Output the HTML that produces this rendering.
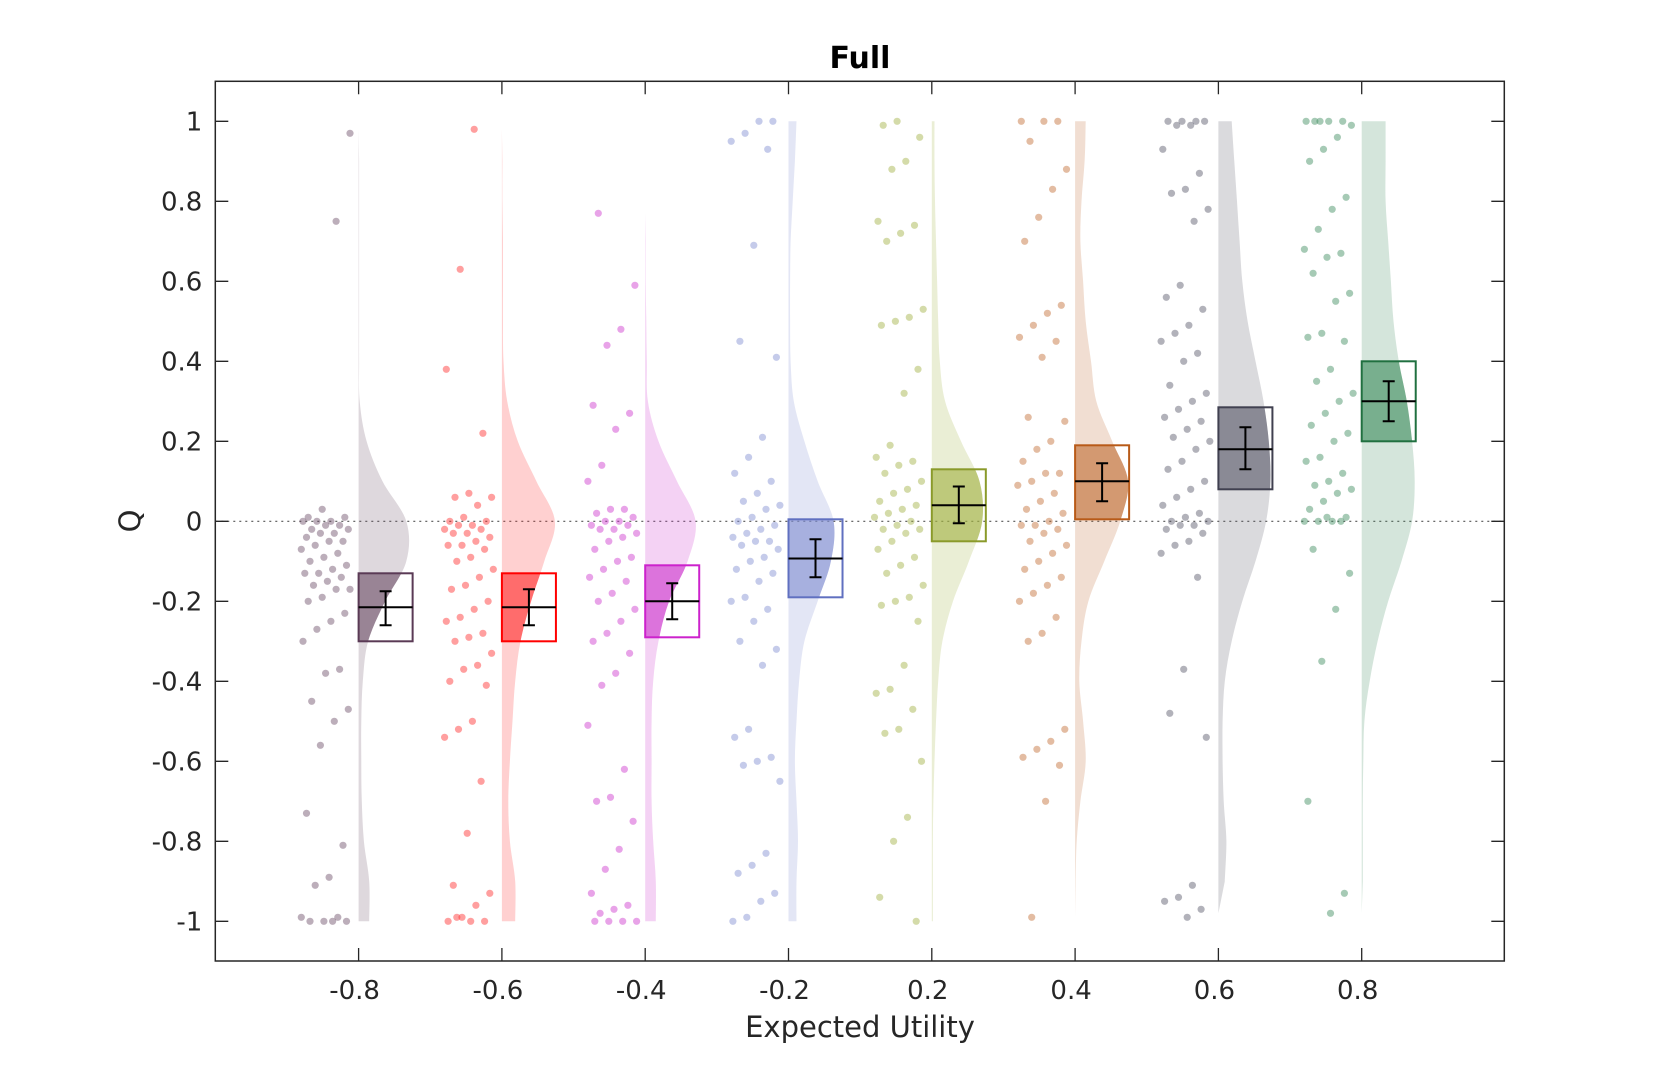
<!DOCTYPE html>
<html><head><meta charset="utf-8"><style>
body{margin:0;background:#fff;}
svg{display:block;font-family:"DejaVu Sans","Liberation Sans",sans-serif;}
</style></head><body>
<svg id="chart" width="1662" height="1080" viewBox="0 0 1662 1080">
<defs id="defs"></defs>
<rect x="0" y="0" width="1662" height="1080" fill="#fff"/>
<text x="860" y="68" text-anchor="middle" font-size="30" font-weight="bold" fill="#000">Full</text>
<g id="plot"></g>
<g id="axes"></g>
<text x="860" y="1037" text-anchor="middle" font-size="29" fill="#262626">Expected Utility</text>
<text x="0" y="0" transform="translate(140,521) rotate(-90)" text-anchor="middle" font-size="29" fill="#262626">Q</text>
</svg>
<script>
const categories = ["-0.8","-0.6","-0.4","-0.2","0.2","0.4","0.6","0.8"];
const yTicks = [1,0.8,0.6,0.4,0.2,0,-0.2,-0.4,-0.6,-0.8,-1];
const yTickLabels = ["1","0.8","0.6","0.4","0.2","0","-0.2","-0.4","-0.6","-0.8","-1"];
const densityGrid = [1,0.9,0.8,0.7,0.6,0.5,0.4,0.3,0.2,0.1,0,-0.1,-0.2,-0.3,-0.4,-0.5,-0.6,-0.7,-0.8,-0.9,-1];
const violinTop = [0.98,0.98,0.77,1,1,1,1,1];
const violinBottom = [-1,-1,-1,-1,-1,-0.99,-0.98,-0.98];
const density1 = [0.01,0.01,0.01,0.01,0.01,0.01,0.01,0.02,0.15,0.45,0.9,0.9,0.5,0.18,0.08,0.05,0.05,0.06,0.1,0.2,0.2];
const density2 = [0.01,0.01,0.01,0.02,0.02,0.02,0.03,0.1,0.3,0.65,1.0,0.8,0.55,0.35,0.25,0.2,0.15,0.12,0.15,0.25,0.25];
const density3 = [0,0,0.01,0.01,0.01,0.02,0.03,0.05,0.25,0.6,0.95,0.8,0.45,0.25,0.15,0.12,0.12,0.12,0.15,0.2,0.2];
const density4 = [0.15,0.12,0.08,0.04,0.03,0.03,0.04,0.1,0.3,0.55,0.85,0.8,0.55,0.3,0.2,0.15,0.12,0.15,0.18,0.15,0.15];
const density5 = [0.05,0.05,0.06,0.08,0.1,0.12,0.15,0.25,0.55,0.9,0.95,0.7,0.4,0.2,0.12,0.08,0.05,0.03,0.02,0.02,0.02];
const density6 = [0.2,0.18,0.12,0.1,0.15,0.2,0.3,0.4,0.7,1.0,0.85,0.55,0.25,0.12,0.08,0.15,0.2,0.1,0.03,0.01,0.01];
const density7 = [0.25,0.3,0.35,0.4,0.45,0.55,0.7,0.85,0.95,0.98,0.9,0.7,0.45,0.25,0.12,0.08,0.08,0.1,0.15,0.12,0.1];
const density8 = [0.45,0.45,0.45,0.5,0.55,0.6,0.7,0.85,0.95,1.0,0.95,0.75,0.5,0.3,0.15,0.05,0.03,0.02,0.02,0.02,0.02];
const boxLow = [-0.30,-0.30,-0.29,-0.19,-0.05,0.005,0.08,0.20];
const boxHigh = [-0.13,-0.13,-0.11,0.005,0.13,0.19,0.285,0.40];
const means = [-0.215,-0.215,-0.20,-0.093,0.04,0.10,0.18,0.30];
const errLow = [-0.26,-0.26,-0.245,-0.14,-0.005,0.05,0.13,0.25];
const errHigh = [-0.175,-0.17,-0.155,-0.045,0.087,0.145,0.235,0.35];
const points1 = [0.97,0.75,0.03,0.01,0.01,0,0,0,-0.01,-0.01,-0.02,-0.02,-0.03,-0.03,-0.04,-0.05,-0.05,-0.06,-0.07,-0.08,-0.09,-0.1,-0.11,-0.12,-0.13,-0.13,-0.14,-0.15,-0.16,-0.17,-0.17,-0.19,-0.2,-0.23,-0.25,-0.27,-0.3,-0.37,-0.38,-0.45,-0.47,-0.5,-0.56,-0.73,-0.81,-0.89,-0.91,-0.99,-0.99,-1,-1,-1,-1];
const points2 = [0.98,0.63,0.38,0.22,0.07,0.06,0.06,0.04,0.01,0,0,-0.01,-0.01,-0.02,-0.02,-0.03,-0.03,-0.04,-0.05,-0.06,-0.06,-0.07,-0.09,-0.1,-0.12,-0.14,-0.16,-0.17,-0.2,-0.22,-0.24,-0.25,-0.28,-0.29,-0.3,-0.33,-0.36,-0.37,-0.4,-0.41,-0.5,-0.52,-0.54,-0.65,-0.78,-0.91,-0.93,-0.96,-0.99,-1,-1,-1,-0.99];
const points3 = [0.77,0.59,0.48,0.44,0.29,0.27,0.23,0.14,0.1,0.03,0.03,0.02,0.01,0,0,-0.01,-0.01,-0.02,-0.02,-0.03,-0.04,-0.05,-0.07,-0.09,-0.1,-0.12,-0.14,-0.15,-0.18,-0.2,-0.22,-0.25,-0.28,-0.3,-0.33,-0.38,-0.41,-0.51,-0.62,-0.69,-0.7,-0.75,-0.82,-0.87,-0.93,-0.96,-0.97,-0.98,-1,-1,-1,-1];
const points4 = [1,1,0.97,0.95,0.93,0.69,0.45,0.41,0.21,0.16,0.12,0.1,0.07,0.05,0.04,0.03,0.01,0,-0.01,-0.02,-0.03,-0.04,-0.05,-0.05,-0.06,-0.07,-0.09,-0.1,-0.12,-0.13,-0.15,-0.19,-0.2,-0.22,-0.25,-0.3,-0.32,-0.36,-0.52,-0.54,-0.59,-0.6,-0.61,-0.65,-0.83,-0.86,-0.88,-0.93,-0.95,-0.99,-1];
const points5 = [1,0.99,0.96,0.9,0.88,0.75,0.74,0.72,0.7,0.53,0.51,0.5,0.49,0.38,0.32,0.19,0.16,0.15,0.14,0.12,0.1,0.08,0.07,0.05,0.04,0.03,0.02,0.01,0,-0.01,-0.02,-0.02,-0.03,-0.05,-0.07,-0.09,-0.11,-0.13,-0.16,-0.19,-0.2,-0.21,-0.25,-0.36,-0.42,-0.43,-0.47,-0.52,-0.53,-0.6,-0.74,-0.8,-0.94,-1];
const points6 = [1,1,1,0.95,0.88,0.83,0.76,0.7,0.54,0.52,0.49,0.46,0.45,0.41,0.26,0.25,0.2,0.18,0.15,0.12,0.12,0.1,0.09,0.07,0.05,0.03,0.02,0,-0.01,-0.01,-0.02,-0.03,-0.05,-0.06,-0.08,-0.1,-0.12,-0.14,-0.16,-0.18,-0.2,-0.24,-0.28,-0.3,-0.52,-0.55,-0.57,-0.59,-0.61,-0.7,-0.99];
const points7 = [1,1,1,1,0.99,0.99,0.93,0.87,0.83,0.82,0.78,0.75,0.59,0.56,0.53,0.49,0.47,0.45,0.42,0.4,0.34,0.32,0.3,0.28,0.26,0.25,0.23,0.21,0.2,0.18,0.15,0.13,0.1,0.08,0.06,0.04,0.02,0.01,0,0,-0.01,-0.01,-0.02,-0.03,-0.05,-0.06,-0.08,-0.14,-0.37,-0.48,-0.54,-0.91,-0.94,-0.95,-0.97,-0.99];
const points8 = [1,1,1,1,1,0.99,0.96,0.93,0.9,0.81,0.78,0.73,0.68,0.67,0.66,0.62,0.57,0.55,0.47,0.46,0.45,0.38,0.35,0.32,0.3,0.27,0.24,0.22,0.2,0.16,0.15,0.12,0.1,0.09,0.08,0.07,0.05,0.03,0.01,0,0,0,0,0.01,-0.07,-0.13,-0.22,-0.35,-0.7,-0.93,-0.98];

const densities=[density1,density2,density3,density4,density5,density6,density7,density8];
const pointSets=[points1,points2,points3,points4,points5,points6,points7,points8];
const baseColors=["#6b4c66","#ff2a2a","#cc33cc","#7f8cd0","#a0b040","#c06a30","#555566","#3a8a5a"];
const strokeColors=["#5a3a55","#ff0000","#cc22cc","#6070c0","#8a9a2a","#b85a18","#404050","#207040"];

const L=215.3,R=1504.3,T=81.3,B=961;
const UNIT=143.3;
function xs(i){return L+(i+1)*UNIT;}
function ys(v){return 521.3-v*400;}
const NS="http://www.w3.org/2000/svg";
function mk(tag,attrs,parent){const e=document.createElementNS(NS,tag);for(const k in attrs)e.setAttribute(k,attrs[k]);parent.appendChild(e);return e;}
const plot=document.getElementById('plot'),axes=document.getElementById('axes'),defs=document.getElementById('defs');

const zl=mk('line',{x1:L,x2:R,y1:ys(0),y2:ys(0),stroke:'#555','stroke-width':1.2,'stroke-dasharray':'2,4'},plot);



function smoothPath(pts){
  let s='L'+pts[0][0].toFixed(1)+','+pts[0][1].toFixed(1)+' ';
  for(let k=0;k<pts.length-1;k++){
    const p0=pts[Math.max(0,k-1)],p1=pts[k],p2=pts[k+1],p3=pts[Math.min(pts.length-1,k+2)];
    const c1x=p1[0]+(p2[0]-p0[0])/6,c1y=p1[1]+(p2[1]-p0[1])/6;
    const c2x=p2[0]-(p3[0]-p1[0])/6,c2y=p2[1]-(p3[1]-p1[1])/6;
    s+='C'+c1x.toFixed(1)+','+c1y.toFixed(1)+' '+c2x.toFixed(1)+','+c2y.toFixed(1)+' '+p2[0].toFixed(1)+','+p2[1].toFixed(1)+' ';
  }
  return s;
}

const VW=0.37*UNIT;
categories.forEach((c,i)=>{
  const x0=xs(i),d=densities[i];
  const g=mk('g',{},plot);
  
  
  let pts=[];
  densityGrid.forEach((y,k)=>{
    const yy=Math.min(Math.max(y,violinBottom[i]),violinTop[i]);
    if(y<=violinTop[i]+1e-9 && y>=violinBottom[i]-1e-9) pts.push([x0+d[k]*VW,ys(yy)]);
  });
  let path='M'+x0+','+ys(violinTop[i])+' '+smoothPath(pts)+'L'+x0+','+ys(violinBottom[i])+' Z';
  const v=mk('path',{d:path,fill:baseColors[i],'fill-opacity':0.22,stroke:'none'},g);
  
  
  pointSets[i].forEach((q,k)=>{
    const j=((k*37+i*11)%29)/28;
    const px=x0-0.06*UNIT-j*0.34*UNIT;
    const dot=mk('circle',{cx:px.toFixed(1),cy:ys(q).toFixed(1),r:3.6,fill:baseColors[i],'fill-opacity':0.45},g);
    
    
  });
  const bw=0.377*UNIT;
  const cp=mk('clipPath',{id:'clip'+i},defs);
  mk('rect',{x:x0,y:ys(boxHigh[i]),width:bw,height:ys(boxLow[i])-ys(boxHigh[i])},cp);
  const vf=mk('path',{d:path,fill:baseColors[i],'fill-opacity':0.6,'clip-path':'url(#clip'+i+')'},g);
  
  
  const box=mk('rect',{x:x0,y:ys(boxHigh[i]),width:bw,height:ys(boxLow[i])-ys(boxHigh[i]),fill:'none',stroke:strokeColors[i],'stroke-width':2},g);
  
  
  const ml=mk('line',{x1:x0,x2:x0+bw,y1:ys(means[i]),y2:ys(means[i]),stroke:'#000','stroke-width':2},g);
  
  
  const cx=x0+bw/2;
  const eb=mk('path',{d:`M${cx},${ys(errHigh[i])}L${cx},${ys(errLow[i])}M${cx-6},${ys(errHigh[i])}L${cx+6},${ys(errHigh[i])}M${cx-6},${ys(errLow[i])}L${cx+6},${ys(errLow[i])}`,stroke:'#000','stroke-width':2,fill:'none'},g);
  
  
});

const frame=mk('rect',{x:L,y:T,width:R-L,height:B-T,fill:'none',stroke:'#262626','stroke-width':1.5},axes);


yTicks.forEach((v,k)=>{
  const y=ys(v);
  const t=mk('path',{d:`M${L},${y}L${L+13},${y}M${R},${y}L${R-13},${y}`,stroke:'#262626','stroke-width':1.3},axes);
  
  
  const lb=mk('text',{x:L-13,y:y+9,'text-anchor':'end','font-size':26,fill:'#262626'},axes);
  lb.textContent=yTickLabels[k];
  
  
});
categories.forEach((c,i)=>{
  const x=xs(i);
  const t=mk('path',{d:`M${x},${B}L${x},${B-13}M${x},${T}L${x},${T+13}`,stroke:'#262626','stroke-width':1.3},axes);
  
  
  const lb=mk('text',{x:x-4,y:999,'text-anchor':'middle','font-size':26,fill:'#262626'},axes);
  lb.textContent=c;
  
  
});
</script>
</body></html>
